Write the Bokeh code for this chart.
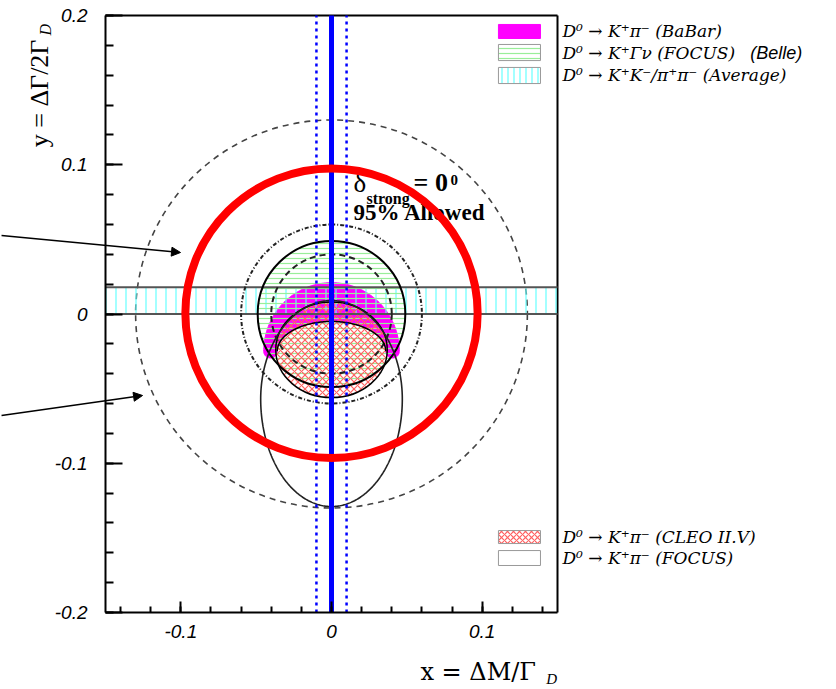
import numpy as np
from bokeh.plotting import figure
from bokeh.models import FixedTicker, Label, Arrow, NormalHead, LinearAxis, Range1d
from bokeh.core.properties import value
from bokeh.embed import file_html
from bokeh.resources import INLINE

# ---------------- data ----------------
x_lim = [-0.15, 0.15]
y_lim = [-0.2, 0.2]
x_ticks = [-0.1, 0.0, 0.1]
x_tick_labels = ["-0.1", "0", "0.1"]
x_minor = [-0.14, -0.12, -0.10, -0.08, -0.06, -0.04, -0.02, 0.0, 0.02, 0.04, 0.06, 0.08, 0.10, 0.12, 0.14]
y_ticks = [-0.2, -0.1, 0.0, 0.1, 0.2]
y_tick_labels = ["-0.2", "-0.1", "0", "0.1", "0.2"]
y_minor = [-0.2, -0.18, -0.16, -0.14, -0.12, -0.10, -0.08, -0.06, -0.04, -0.02, 0.0,
           0.02, 0.04, 0.06, 0.08, 0.10, 0.12, 0.14, 0.16, 0.18, 0.2]

x_meas = [0.0]                 # solid blue line
x_meas_band = [-0.01, 0.01]    # dotted blue lines
ycp_band = [0.0, 0.018]        # K+K-/pi+pi- average band (y range)

e791_radius = 0.13             # big dashed circle
dotdash_radius = 0.06          # dash-dot circle
belle_radius = 0.049           # solid circle (hatched green)
focus_sl_radius = 0.040        # dashed circle

# BaBar K pi (delta=0) crescent: centre y, outer rx/ry, inner rx/ry
babar_cy = -0.025
babar_outer = [0.045, 0.046]
babar_inner = [0.036, 0.020]

# CLEO II.V region: centre, rx, ry
cleo_c = [0.0, -0.024]
cleo_r = [0.037, 0.032]

# FOCUS K pi contour: centre, rx, ry(upper), ry(lower)
focus_c = [0.0, -0.057]
focus_r = [0.047, 0.066, 0.072]

# highlighted region (red circle)
red_c = [0.0, 0.0005]
red_r = 0.097

legend_top = ["D\u2070 \u2192 K\u207a\u03c0\u207b (BaBar)",
              "D\u2070 \u2192 K\u207a\u0393\u03bd (FOCUS)",
              "D\u2070 \u2192 K\u207aK\u207b/\u03c0\u207a\u03c0\u207b (Average)"]
legend_bottom = ["D\u2070 \u2192 K\u207a\u03c0\u207b (CLEO II.V)",
                 "D\u2070 \u2192 K\u207a\u03c0\u207b (FOCUS)"]

# ---------------- layout: frame box in pixels ----------------
W, H = 836, 689
fx0, fx1, fy0, fy1 = 105, 557, 15, 612      # visible plot box (left, right, top, bottom)
sx = (fx1 - fx0) / (x_lim[1] - x_lim[0])
sy = (fy1 - fy0) / (y_lim[1] - y_lim[0])
xr = (x_lim[0] - fx0 / sx, x_lim[0] + (W - fx0) / sx)
yr = (y_lim[1] - (H - fy0) / sy, y_lim[1] + fy0 / sy)

p = figure(width=W, height=H, x_range=Range1d(*xr), y_range=Range1d(*yr),
           output_backend="svg", toolbar_location=None,
           x_axis_location=None, y_axis_location=None,
           min_border_left=0, min_border_right=0, min_border_top=0, min_border_bottom=0)
p.grid.visible = False
p.outline_line_color = None
p.background_fill_color = "white"
p.border_fill_color = "white"

xaxis = LinearAxis(fixed_location=y_lim[0], bounds=tuple(x_lim),
                   ticker=FixedTicker(ticks=x_ticks, minor_ticks=x_minor))
yaxis = LinearAxis(fixed_location=x_lim[0], bounds=tuple(y_lim),
                   ticker=FixedTicker(ticks=y_ticks, minor_ticks=y_minor))
xaxis.major_label_overrides = {t: s for t, s in zip(x_ticks, x_tick_labels)}
yaxis.major_label_overrides = {t: s for t, s in zip(y_ticks, y_tick_labels)}
for ax in (xaxis, yaxis):
    ax.axis_line_width = 2
    ax.axis_line_color = "black"
    ax.major_tick_line_width = 2
    ax.minor_tick_line_width = 2
    ax.major_tick_out = 0
    ax.minor_tick_out = 0
    ax.major_label_text_font = "Liberation Sans"
    ax.major_label_text_font_style = "italic"
    ax.major_label_text_font_size = "19px"
    ax.major_label_text_color = "black"
xaxis.major_tick_in = 11
xaxis.minor_tick_in = 6
yaxis.major_tick_in = 17
yaxis.minor_tick_in = 8
xaxis.major_label_standoff = 12
yaxis.major_label_standoff = 18
p.add_layout(xaxis, "below")
p.add_layout(yaxis, "left")

# top and right frame lines
p.segment(x0=[x_lim[0], x_lim[1]], y0=[y_lim[1], y_lim[1]], x1=[x_lim[1], x_lim[1]], y1=[y_lim[1], y_lim[0]],
          line_color="black", line_width=2)

t = np.linspace(0, 2 * np.pi, 361)

# big dashed circle
p.ellipse(x=0, y=0, width=2 * e791_radius, height=2 * e791_radius, fill_alpha=0,
          line_color="#444444", line_width=1.6, line_dash="6 5")

# BaBar magenta crescent
to = np.linspace(np.pi, 0, 120)
ti = np.linspace(0, np.pi, 120)
cap_r = (babar_outer[0] - babar_inner[0]) / 2
cap_c = (babar_outer[0] + babar_inner[0]) / 2
tc = np.linspace(0, -np.pi, 40)
bx = np.concatenate([babar_outer[0] * np.cos(to),
                     cap_c + cap_r * np.cos(tc),
                     babar_inner[0] * np.cos(ti),
                     -cap_c + cap_r * np.cos(tc)])
by = np.concatenate([babar_cy + babar_outer[1] * np.sin(to),
                     babar_cy + cap_r * np.sin(tc),
                     babar_cy + babar_inner[1] * np.sin(ti),
                     babar_cy + cap_r * np.sin(tc)])
p.patch(bx, by, fill_color="#ff00ff", line_color="#ff00ff", line_width=1)

# K+K-/pi+pi- band (cyan vertical hatch)
p.quad(left=x_lim[0], right=x_lim[1], bottom=ycp_band[0], top=ycp_band[1], fill_alpha=0,
       hatch_pattern="vertical_line", hatch_color="#66ffff", hatch_scale=10, hatch_weight=1.2,
       line_alpha=0)

# Belle semileptonic (green horizontal hatch)
p.ellipse(x=0, y=0, width=2 * belle_radius, height=2 * belle_radius, fill_alpha=0,
          hatch_pattern="horizontal_line", hatch_color="#99ee99", hatch_scale=5, hatch_weight=1.2,
          line_alpha=0)

# CLEO II.V (red cross hatch)
p.ellipse(x=cleo_c[0], y=cleo_c[1], width=2 * cleo_r[0], height=2 * cleo_r[1], fill_alpha=0,
          hatch_pattern="diagonal_cross", hatch_color="#ff6060", hatch_scale=7, hatch_weight=1.2,
          line_color="black", line_width=1.5)

# band borders
p.segment(x0=[x_lim[0]] * 2, x1=[x_lim[1]] * 2, y0=ycp_band, y1=ycp_band, line_color="#555555", line_width=2)

# circles
p.ellipse(x=0, y=0, width=2 * belle_radius, height=2 * belle_radius, fill_alpha=0,
          line_color="black", line_width=2)
p.ellipse(x=0, y=0, width=2 * focus_sl_radius, height=2 * focus_sl_radius, fill_alpha=0,
          line_color="#222222", line_width=2, line_dash="6 4")
p.ellipse(x=0, y=0, width=2 * dotdash_radius, height=2 * dotdash_radius, fill_alpha=0,
          line_color="#222222", line_width=2, line_dash="4 2 1 2")

# BaBar inner arc outline
p.line(babar_inner[0] * np.cos(ti), babar_cy + babar_inner[1] * np.sin(ti), line_color="black", line_width=1.5)

# FOCUS K pi contour
fy = np.where(np.sin(t) > 0, focus_r[1], focus_r[2]) * np.sin(t) + focus_c[1]
fxx = focus_c[0] + focus_r[0] * np.cos(t)
p.line(fxx, fy, line_color="#222222", line_width=1.6)

# blue x measurement lines
p.segment(x0=x_meas, x1=x_meas, y0=[y_lim[0]], y1=[y_lim[1]], line_color="#0000ff", line_width=5)
p.segment(x0=x_meas_band, x1=x_meas_band, y0=[y_lim[0]] * 2, y1=[y_lim[1]] * 2,
          line_color="#0000ff", line_width=2.5, line_dash="3 4")

# annotation texts inside the plot box
serif = value("Liberation Serif")
p.text(x=[0.0146], y=[0.0774], text=["\u03b4"], text_font=serif, text_font_size="27px", text_color="black")
p.text(x=[0.0232], y=[0.0715], text=["strong"], text_font=serif, text_font_size="16px",
       text_font_style="bold", text_color="black")
p.text(x=[0.0545], y=[0.0787], text=["= 0"], text_font=serif, text_font_size="26px",
       text_font_style="bold", text_color="black")
p.text(x=[0.0790], y=[0.0861], text=["0"], text_font=serif, text_font_size="15px",
       text_font_style="bold", text_color="black")
p.text(x=[0.0146], y=[0.0593], text=["95% Allowed"], text_font=serif, text_font_size="23px",
       text_font_style="bold", text_color="black")

# legend swatches
sw_l, sw_r = 0.1108, 0.1387
p.quad(left=sw_l, right=sw_r, bottom=0.1846, top=0.194, fill_color="#ff00ff", line_color="#ff00ff")
p.quad(left=sw_l, right=sw_r, bottom=0.1698, top=0.1806, fill_color="white",
       hatch_pattern="horizontal_line", hatch_color="#99ee99", hatch_scale=5, hatch_weight=1.2,
       line_color="#999999", line_width=1)
p.quad(left=sw_l, right=sw_r, bottom=0.1544, top=0.1652, fill_color="white",
       hatch_pattern="vertical_line", hatch_color="#66ffff", hatch_scale=6, hatch_weight=1.2,
       line_color="#999999", line_width=1)
p.quad(left=sw_l, right=sw_r, bottom=-0.1538, top=-0.1451, fill_color="white",
       hatch_pattern="diagonal_cross", hatch_color="#ff6060", hatch_scale=6, hatch_weight=1.2,
       line_color="#999999", line_width=1)
p.quad(left=sw_l, right=sw_r, bottom=-0.1685, top=-0.1585, fill_color="white",
       line_color="#999999", line_width=1)

# red highlight circle
p.ellipse(x=red_c[0], y=red_c[1], width=2 * red_r, height=2 * red_r, fill_alpha=0,
          line_color="#ff0000", line_width=8)

# legend texts (right of the plot box)
leg_font = "DejaVu Serif"
leg_y_top = [0.1893, 0.1752, 0.1598]
for s, yy in zip(legend_top, leg_y_top):
    p.add_layout(Label(x=0.1533, y=yy, text=s, text_font=leg_font, text_font_style="italic",
                       text_font_size="17px", text_baseline="middle", text_color="black"))
p.add_layout(Label(x=0.2780, y=0.1752, text="(Belle)", text_font="Liberation Sans", text_font_style="italic",
                   text_font_size="18px", text_baseline="middle", text_color="black"))
leg_y_bot = [-0.1494, -0.1635]
for s, yy in zip(legend_bottom, leg_y_bot):
    p.add_layout(Label(x=0.1533, y=yy, text=s, text_font=leg_font, text_font_style="italic",
                       text_font_size="17px", text_baseline="middle", text_color="black"))

# axis titles
p.add_layout(Label(x=-0.1937, y=0.1117, text="y = \u0394\u0393/2\u0393", angle=np.pi / 2,
                   text_font="Liberation Serif", text_font_size="26px", text_baseline="alphabetic",
                   text_align="left", text_color="black"))
p.add_layout(Label(x=-0.1898, y=0.1866, text="D", angle=np.pi / 2,
                   text_font="Liberation Serif", text_font_style="italic", text_font_size="16px",
                   text_baseline="alphabetic", text_align="left", text_color="black"))
p.add_layout(Label(x=0.059, y=-0.2400, text="x = \u0394M/\u0393",
                   text_font="DejaVu Serif", text_font_size="24px", text_baseline="alphabetic",
                   text_align="left", text_color="black"))
p.add_layout(Label(x=0.1425, y=-0.2445, text="D",
                   text_font="Liberation Serif", text_font_style="italic", text_font_size="15px",
                   text_baseline="alphabetic", text_align="left", text_color="black"))

# arrows pointing at the circles
p.add_layout(Arrow(x_start=-0.2190, y_start=0.0526, x_end=-0.1002, y_end=0.0412,
                   line_width=1.5, line_color="black",
                   end=NormalHead(size=9, fill_color="black", line_color="black")))
p.add_layout(Arrow(x_start=-0.2190, y_start=-0.068, x_end=-0.1254, y_end=-0.0546,
                   line_width=1.5, line_color="black",
                   end=NormalHead(size=9, fill_color="black", line_color="black")))

open("out.html", "w").write(file_html(p, INLINE))
